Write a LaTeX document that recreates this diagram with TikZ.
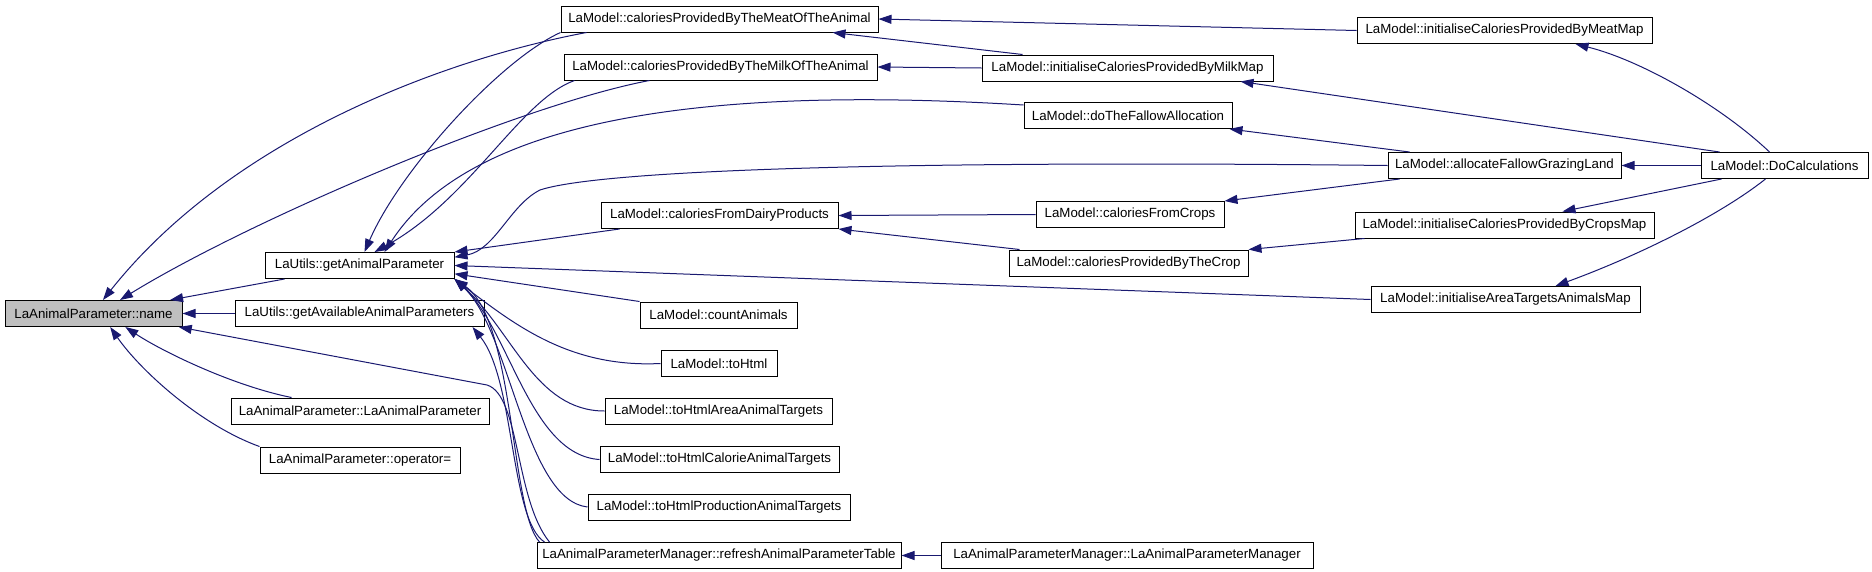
\documentclass[tikz,border=0pt]{standalone}
\usepackage{fontspec}
\setmainfont{Liberation Sans}
\usetikzlibrary{arrows.meta}
\definecolor{callblue}{HTML}{191970}

\begin{document}
\begin{tikzpicture}[x=1pt, y=-1pt,
    fn/.style={draw, rectangle, fill=white, line width=1pt, minimum height=26, inner sep=1pt,
      font=\fontsize{13.3}{15}\selectfont},
    call/.style={draw=callblue, color=callblue, line width=1pt, -{Triangle[length=13pt,width=9pt]}}]
    \useasboundingbox (0,0) rectangle (1872,571);

    % Fonctions
    \node[fn, fill=black!25, minimum width=177] (name) at (93.5, 313.5) {LaAnimalParameter::name};
    \node[fn, minimum width=189] (getAP) at (359.5, 265.5) {LaUtils::getAnimalParameter};
    \node[fn, minimum width=249] (getAvail) at (359.5, 313.5) {LaUtils::getAvailableAnimalParameters};
    \node[fn, minimum width=258] (LaAP) at (360, 411) {LaAnimalParameter::LaAnimalParameter};
    \node[fn, minimum width=200] (opEq) at (360, 460) {LaAnimalParameter::operator=};

    \node[fn, minimum width=317] (meat) at (719.5, 19) {LaModel::caloriesProvidedByTheMeatOfTheAnimal};
    \node[fn, minimum width=313] (milk) at (720.5, 67) {LaModel::caloriesProvidedByTheMilkOfTheAnimal};
    \node[fn, minimum width=237] (dairy) at (719.5, 215.5) {LaModel::caloriesFromDairyProducts};
    \node[fn, minimum width=157] (count) at (718.5, 315) {LaModel::countAnimals};
    \node[fn, minimum width=116] (toHtml) at (719, 363.5) {LaModel::toHtml};
    \node[fn, minimum width=227] (toHtmlArea) at (718.5, 411) {LaModel::toHtmlAreaAnimalTargets};
    \node[fn, minimum width=239] (toHtmlCal) at (719.5, 459.5) {LaModel::toHtmlCalorieAnimalTargets};
    \node[fn, minimum width=262] (toHtmlProd) at (719, 507) {LaModel::toHtmlProductionAnimalTargets};
    \node[fn, minimum width=364] (refresh) at (719, 555.5) {LaAnimalParameterManager::refreshAnimalParameterTable};

    \node[fn, minimum width=291] (milkMap) at (1127.5, 68) {LaModel::initialiseCaloriesProvidedByMilkMap};
    \node[fn, minimum width=208] (doFallow) at (1128, 115.5) {LaModel::doTheFallowAllocation};
    \node[fn, minimum width=188] (fromCrops) at (1130, 214.5) {LaModel::caloriesFromCrops};
    \node[fn, minimum width=239] (provCrop) at (1128.5, 263) {LaModel::caloriesProvidedByTheCrop};
    \node[fn, minimum width=372] (manager) at (1127, 555.5) {LaAnimalParameterManager::LaAnimalParameterManager};

    \node[fn, minimum width=295] (meatMap) at (1504.5, 30.5) {LaModel::initialiseCaloriesProvidedByMeatMap};
    \node[fn, minimum width=233] (allocate) at (1504.5, 165.5) {LaModel::allocateFallowGrazingLand};
    \node[fn, minimum width=299] (cropsMap) at (1504.5, 225) {LaModel::initialiseCaloriesProvidedByCropsMap};
    \node[fn, minimum width=269] (areaTgt) at (1505.5, 299.5) {LaModel::initialiseAreaTargetsAnimalsMap};

    \node[fn, minimum width=167] (doCalc) at (1784.5, 165.5) {LaModel::DoCalculations};

    % Appels vers name
    \draw[call] ([xshift=20pt]getAP.south west) -- (name.10);
    \draw[call] (getAvail.west) -- (name.east);
    \draw[call] ([xshift=61pt]LaAP.north west) .. controls (230,385) and (160,350) .. (name.-23);
    \draw[call] (opEq.north west) .. controls (200,425) and (140,370) .. (name.-39);
    \draw[call] ([xshift=26pt]meat.south west) .. controls (440,60) and (230,140) .. (name.55);
    \draw[call] ([xshift=86pt]milk.south west) .. controls (520,105) and (250,220) .. (name.27);
    \draw[call] ([xshift=13pt]refresh.north west) .. controls (515,500) and (520,395) .. (487,385) -- (name.-9);

    % Appels vers getAnimalParameter
    \draw[call] (meat.south west) .. controls (500,60) and (400,170) .. ([xshift=5pt]getAP.north);
    \draw[call] ([xshift=11pt]milk.south west) .. controls (520,100) and (470,200) .. ([xshift=15pt]getAP.north);
    \draw[call] ([yshift=-3pt]doFallow.north west) .. controls (700,85) and (470,120) .. ([xshift=25pt]getAP.north);
    \draw[call] (allocate.west) .. controls (900,160) and (600,170) .. (540,190)
        .. controls (510,205) and (495,250) .. (getAP.5);
    \draw[call] ([xshift=19pt]dairy.south west) -- (getAP.north east);
    \draw[call] (areaTgt.west) -- (getAP.east);
    \draw[call] (count.north west) -- (getAP.-5);
    \draw[call] (toHtml.west) .. controls (570,368) and (515,325) .. (getAP.south east);
    \draw[call] (toHtmlArea.west) .. controls (535,411) and (512,330) .. (getAP.south east);
    \draw[call] (toHtmlCal.west) .. controls (530,455) and (510,330) .. (getAP.south east);
    \draw[call] (toHtmlProd.west) .. controls (525,500) and (510,330) .. (getAP.south east);
    \draw[call] ([xshift=3pt]refresh.north west) .. controls (510,510) and (515,320) .. (getAP.south east);
    \draw[call] ([xshift=8pt]refresh.north west) .. controls (510,520) and (515,380) .. ([xshift=-12pt]getAvail.south east);

    % Appels vers le modele
    \draw[call] (meatMap.west) -- (meat.east);
    \draw[call] ([xshift=41pt]milkMap.north west) -- ([xshift=-46pt]meat.south east);
    \draw[call] (milkMap.west) -- (milk.east);
    \draw[call] ([xshift=22pt]allocate.north west) -- ([xshift=-3pt]doFallow.south east);
    \draw[call] ([xshift=12pt]allocate.south west) -- (fromCrops.north east);
    \draw[call] (fromCrops.west) -- (dairy.east);
    \draw[call] ([xshift=11pt]provCrop.north west) -- (dairy.south east);
    \draw[call] ([xshift=10pt]cropsMap.south west) -- (provCrop.north east);
    \draw[call] (manager.west) -- (refresh.east);

    % Appels depuis DoCalculations
    \draw[call] ([xshift=69pt]doCalc.north west) .. controls (1720,105) and (1640,60) .. ([xshift=-77pt]meatMap.south east);
    \draw[call] ([xshift=19pt]doCalc.north west) -- ([xshift=-33pt]milkMap.south east);
    \draw[call] (doCalc.west) -- (allocate.east);
    \draw[call] ([xshift=21pt]doCalc.south west) -- ([xshift=58pt]cropsMap.north);
    \draw[call] ([xshift=65pt]doCalc.south west) .. controls (1720,215) and (1640,255) .. ([xshift=50pt]areaTgt.north);

\end{tikzpicture}
\end{document}
